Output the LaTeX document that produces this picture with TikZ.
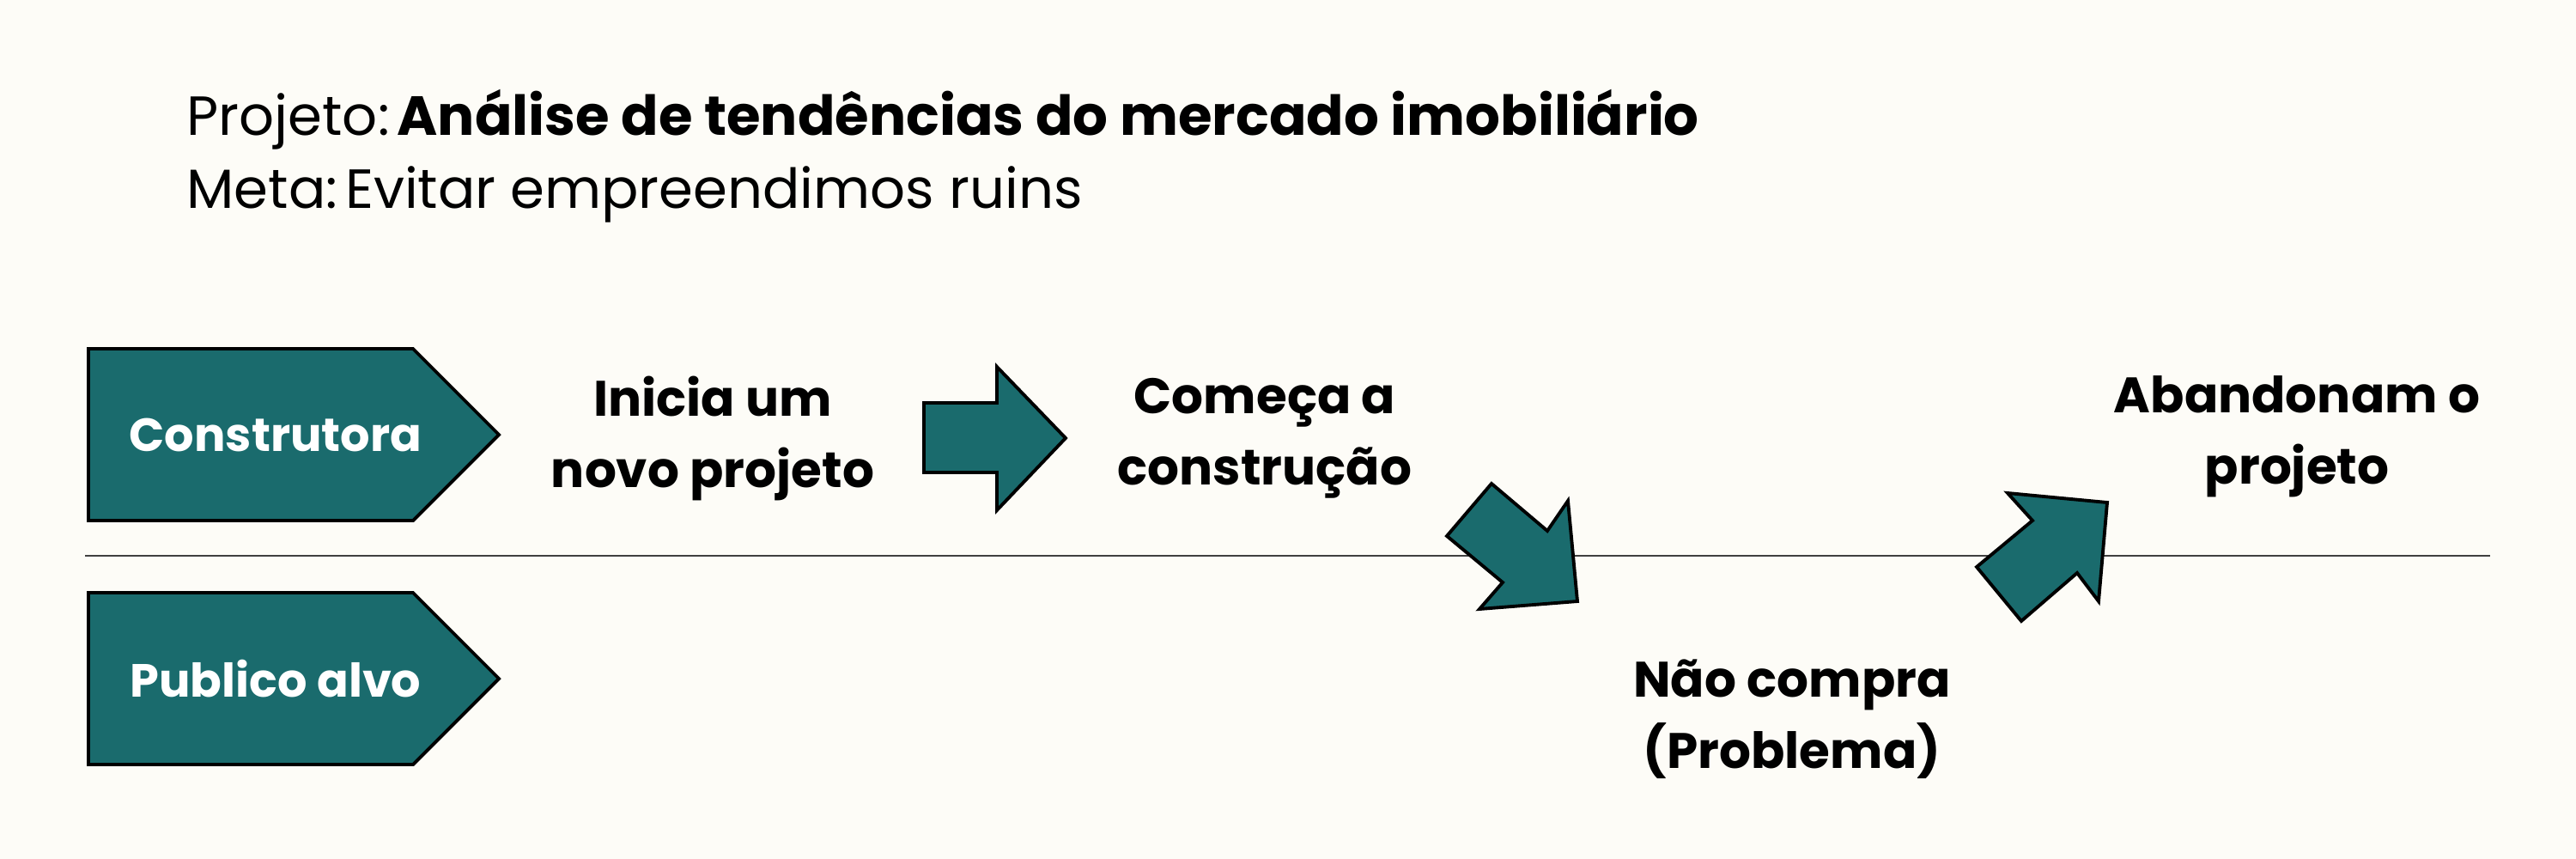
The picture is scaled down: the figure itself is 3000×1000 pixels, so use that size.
\documentclass[tikz,border=0pt]{standalone}
\usepackage{fontspec}
\setmainfont{Poppins}
\usetikzlibrary{positioning}
\definecolor{pagebg}{HTML}{FDFCF7}
\definecolor{laneteal}{HTML}{1A6B6D}
\tikzset{
  lanebox/.style={draw=black,fill=laneteal,line width=1.1pt,line join=miter},
  lanelabel/.style={text=white,font=\fontsize{15.4}{20}\selectfont\bfseries},
  steptext/.style={align=center,font=\fontsize{16.5}{23.6}\selectfont\bfseries},
  blockarrow/.style={draw=black,fill=laneteal,line width=1.1pt},
  divider/.style={draw=black!75,line width=0.8pt},
  titletext/.style={anchor=base west,inner sep=0pt,font=\fontsize{18.25}{24}\selectfont}
}
\begin{document}
\begin{tikzpicture}[x=0.01cm,y=-0.01cm]
  \fill[pagebg] (0,0) rectangle (3000,1000);
  \useasboundingbox (0,0) rectangle (3000,1000);

  % title lines
  \node[titletext] (projeto) at (217,157) {Projeto:\hspace{0.14em}\textbf{Análise de tendências do mercado imobiliário}};
  \node[titletext] (meta) at (217,242) {Meta:\hspace{0.14em}Evitar empreendimos ruins};

  % lanes
  \draw[divider] (99,647) -- (2900,647);
  \draw[lanebox] (103,406) -- (481,406) -- (581,506) -- (481,606) -- (103,606) -- cycle;
  \node[lanelabel] (construtora) at (321,506) {Construtora};
  \draw[lanebox] (103,690) -- (481,690) -- (581,790) -- (481,890) -- (103,890) -- cycle;
  \node[lanelabel] (publico) at (321,790) {Publico alvo};

  % steps
  \node[steptext] (inicia) at (830,510) {Inicia um\\novo projeto};
  \node[steptext] (comeca) at (1473,510) {Começa a\\construção};
  \node[steptext] (naocompra) at (2087,837) {Não compra\\(Problema)};
  \node[steptext] (abandonam) at (2675,508) {Abandonam o\\projeto};

  % block arrows
  \draw[blockarrow] (1076,469) -- (1161,469) -- (1161,427) -- (1241,510) -- (1161,594) -- (1161,550) -- (1076,550) -- cycle;
  \draw[blockarrow] (1737,563) -- (1802,618) -- (1826,583) -- (1837,700) -- (1723,709) -- (1750,678) -- (1685,624) -- cycle;
  \draw[blockarrow] (2302,660) -- (2367,606) -- (2338,574) -- (2454,585) -- (2444,700) -- (2419,667) -- (2354,723) -- cycle;
\end{tikzpicture}
\end{document}
